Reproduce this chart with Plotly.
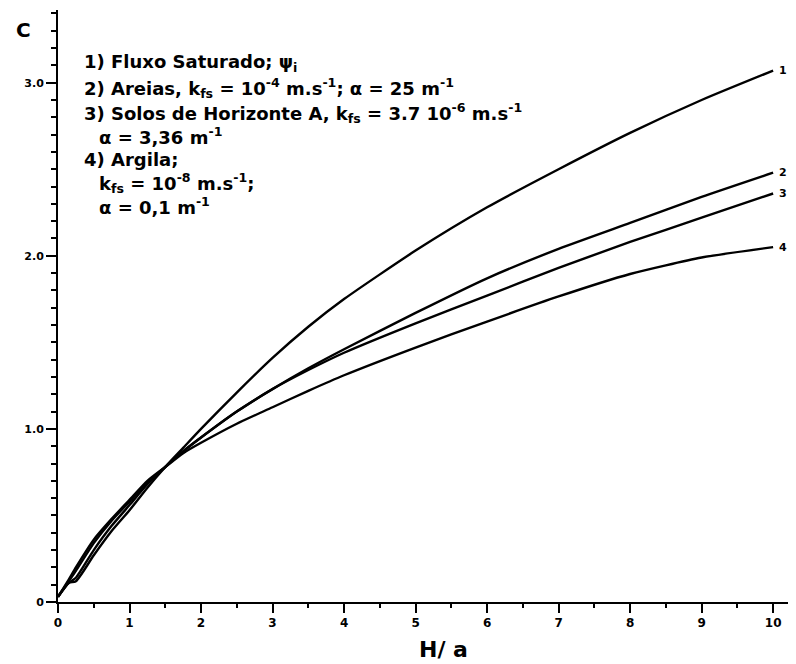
import plotly.graph_objects as go

# H/a values (shared x grid)
h_over_a = [0, 0.15, 0.25, 0.5, 0.75, 1.0, 1.25, 1.5, 1.75, 2.0, 2.5, 3.0, 3.5, 4.0, 5.0, 6.0, 7.0, 8.0, 9.0, 10.0]

# Shape factor C for each curve
c_curve1 = [0.03, 0.11, 0.12, 0.27, 0.41, 0.53, 0.66, 0.78, 0.89, 1.00, 1.21, 1.41, 1.59, 1.75, 2.03, 2.28, 2.50, 2.71, 2.90, 3.07]
c_curve2 = [0.03, 0.11, 0.14, 0.30, 0.44, 0.56, 0.68, 0.78, 0.87, 0.95, 1.10, 1.23, 1.35, 1.46, 1.67, 1.87, 2.04, 2.19, 2.34, 2.48]
c_curve3 = [0.03, 0.12, 0.18, 0.34, 0.47, 0.58, 0.69, 0.78, 0.87, 0.95, 1.10, 1.23, 1.34, 1.44, 1.61, 1.77, 1.93, 2.08, 2.22, 2.36]
c_curve4 = [0.03, 0.13, 0.20, 0.36, 0.48, 0.59, 0.70, 0.78, 0.86, 0.92, 1.03, 1.125, 1.22, 1.31, 1.47, 1.62, 1.765, 1.895, 1.99, 2.05]

curve_labels = ["1", "2", "3", "4"]
curves = [c_curve1, c_curve2, c_curve3, c_curve4]

x_tickvals = [0, 1, 2, 3, 4, 5, 6, 7, 8, 9, 10]
x_ticktext = ["0", "1", "2", "3", "4", "5", "6", "7", "8", "9", "10"]
y_tickvals = [0, 1, 2, 3]
y_ticktext = ["0", "1.0", "2.0", "3.0"]

legend_lines = [
    "1) Fluxo Saturado; ψ<sub>i</sub>",
    "2) Areias, k<sub>fs</sub> = 10<sup>-4</sup> m.s<sup>-1</sup>; α = 25 m<sup>-1</sup>",
    "3) Solos de Horizonte A, k<sub>fs</sub> = 3.7 10<sup>-6</sup> m.s<sup>-1</sup>",
    "α = 3,36 m<sup>-1</sup>",
    "4) Argila;",
    "k<sub>fs</sub> = 10<sup>-8</sup> m.s<sup>-1</sup>;",
    "α = 0,1 m<sup>-1</sup>",
]
legend_indent = [False, False, False, True, False, True, True]
legend_y = [0.911, 0.868, 0.826, 0.787, 0.748, 0.7075, 0.6686]

FONT = "DejaVu Sans"

fig = go.Figure()
for name, ys in zip(curve_labels, curves):
    fig.add_trace(go.Scatter(
        x=h_over_a, y=ys, mode="lines", name=name,
        line=dict(color="black", width=2.4, shape="spline", smoothing=0.6),
        showlegend=False,
    ))
    fig.add_annotation(
        x=h_over_a[-1], y=ys[-1], xref="x", yref="y",
        text="<b>" + name + "</b>", showarrow=False,
        xanchor="left", yanchor="middle", xshift=4,
        font=dict(family=FONT, size=11, color="black"),
    )

for txt, indent, yp in zip(legend_lines, legend_indent, legend_y):
    fig.add_annotation(
        x=0.0528 if indent else 0.0325, y=yp, xref="paper", yref="paper",
        text="<b>" + txt + "</b>", showarrow=False,
        xanchor="left", yanchor="middle",
        font=dict(family=FONT, size=18, color="black"),
    )

fig.add_annotation(
    x=-0.047, y=0.966, xref="paper", yref="paper", text="<b>C</b>",
    showarrow=False, xanchor="center", yanchor="middle",
    font=dict(family=FONT, size=20, color="black"),
)
fig.add_annotation(
    x=0.522, y=-0.081, xref="paper", yref="paper", text="<b>H/ a</b>",
    showarrow=False, xanchor="center", yanchor="middle",
    font=dict(family=FONT, size=22, color="black"),
)

# page body has an 8px default margin, so the figure is sized to fit inside it
fig.update_layout(
    width=788, height=656,
    margin=dict(l=50, r=0, t=2, b=62),
    paper_bgcolor="white", plot_bgcolor="white",
    xaxis=dict(
        range=[0, 10.32], tickvals=x_tickvals, ticktext=x_ticktext, automargin=False,
        showgrid=False, zeroline=False, showline=True, linecolor="black", linewidth=2,
        ticks="outside", ticklen=9, tickwidth=2, tickcolor="black",
        tickfont=dict(family=FONT, size=12, color="black", weight="bold"),
        minor=dict(dtick=0.5, tick0=0, ticks="outside", ticklen=4, tickwidth=2, tickcolor="black", showgrid=False),
    ),
    yaxis=dict(
        range=[0, 3.42], tickvals=y_tickvals, ticktext=y_ticktext, automargin=False,
        showgrid=False, zeroline=False, showline=True, linecolor="black", linewidth=2,
        ticks="outside", ticklen=10, tickwidth=2, tickcolor="black",
        tickfont=dict(family=FONT, size=11, color="black", weight="bold"),
        minor=dict(dtick=0.1, tick0=0, ticks="outside", ticklen=5, tickwidth=1.5, tickcolor="black", showgrid=False),
    ),
)

fig.write_html("out.html")
